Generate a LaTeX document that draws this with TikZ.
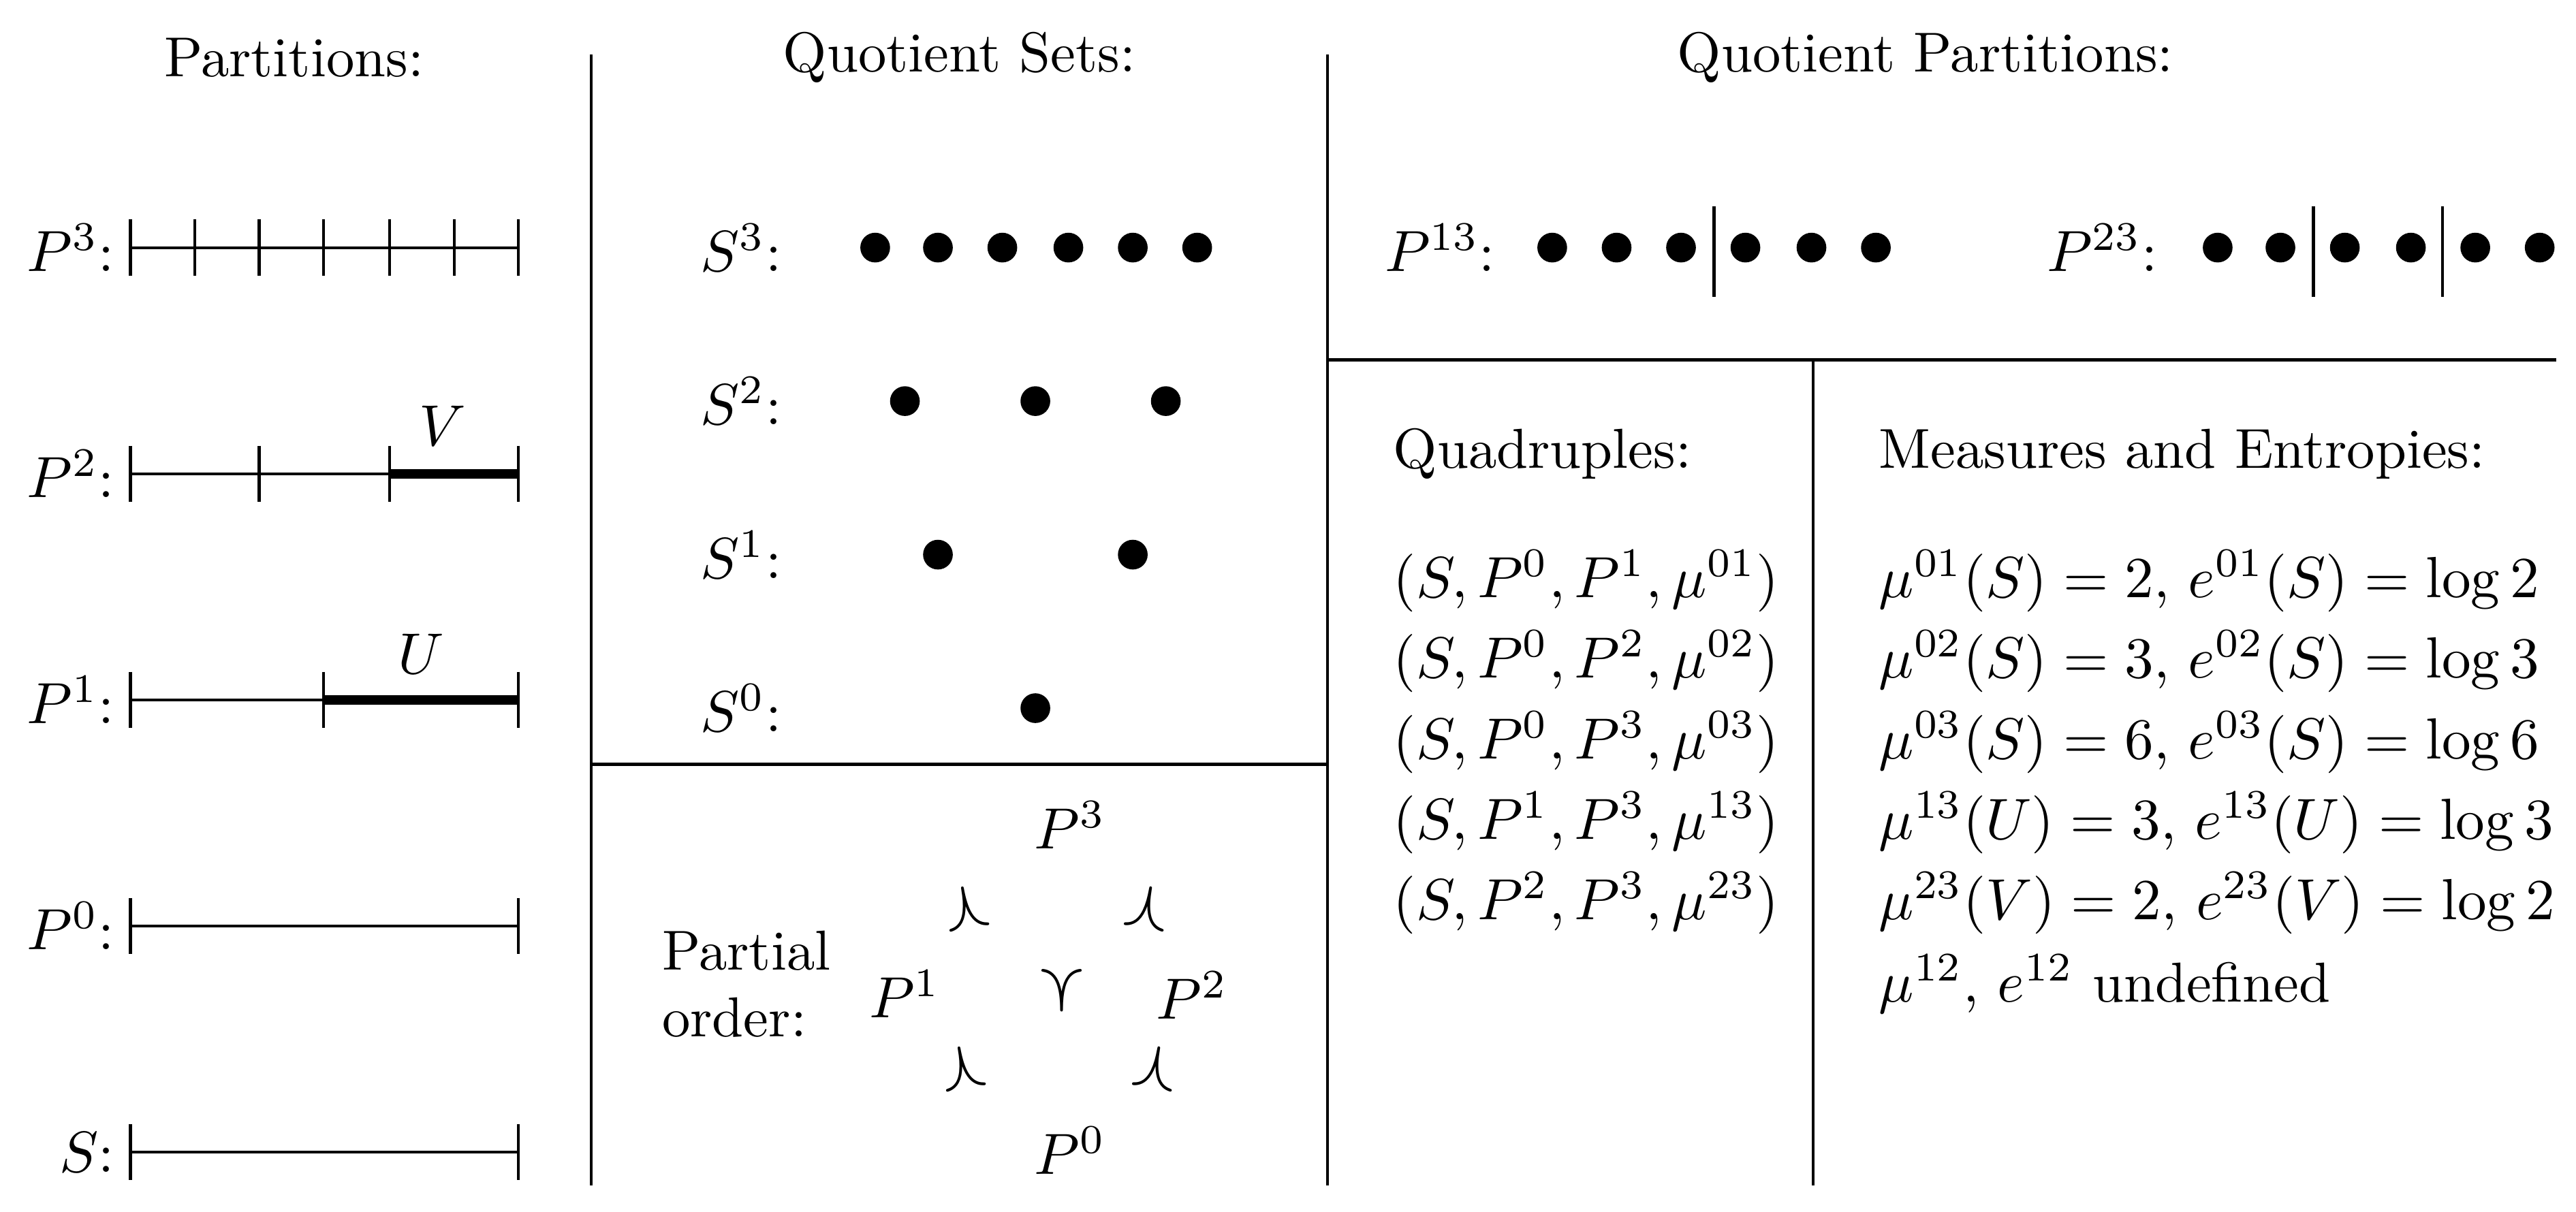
\documentclass[tikz,border=0pt]{standalone}
\usepackage{amsmath}
\usepackage{amssymb}
\usepackage{tikz}
\usetikzlibrary{calc}

\tikzset{
  txt/.style={inner sep=0pt,font=\fontsize{9.7}{11.5}\selectfont},
  dot/.style={circle,fill=black,inner sep=0pt,minimum size=0.18cm},
  bar/.style={line width=1.7pt},
  rel/.style={txt,font=\fontsize{12}{14}\selectfont}
}

\begin{document}
\begin{tikzpicture}[x=0.01cm,y=-0.01cm,line width=0.5pt]
  \useasboundingbox (0,0) rectangle (1560,734);

  % Frame lines
  \draw (358,33) -- (358,718);
  \draw (804,33) -- (804,718);
  \draw (1098,218) -- (1098,718);
  \draw (358,463) -- (804,463);
  \draw (804,218) -- (1548,218);

  % Partitions
  \node[txt] (ptitle) at (178,35) {Partitions:};
  \foreach \lab/\y in {P^3/150,P^2/287,P^1/424,P^0/561,S/698}{
    \node[txt,anchor=east] at (70,\y) {$\lab$:};
    \draw (79,\y) -- (314,\y);
  }
  \foreach \x in {79,118,157,196,236,275,314} \draw (\x,133) -- (\x,167);
  \foreach \x in {79,157,236,314} \draw (\x,270) -- (\x,304);
  \foreach \x in {79,196,314} \draw (\x,407) -- (\x,441);
  \foreach \y in {561,698} {\draw (79,\y-17) -- (79,\y+17); \draw (314,\y-17) -- (314,\y+17);}
  \draw[bar] (236,287) -- (314,287);
  \draw[bar] (196,424) -- (314,424);
  \node[txt] (V) at (268,258) {$V$};
  \node[txt] (U) at (255,396) {$U$};

  % Quotient sets
  \node[txt] (qtitle) at (581,35) {Quotient Sets:};
  \node[txt,anchor=east] at (474,150) {$S^3$:};
  \node[txt,anchor=east] at (474,243) {$S^2$:};
  \node[txt,anchor=east] at (474,336) {$S^1$:};
  \node[txt,anchor=east] at (474,429) {$S^0$:};
  \foreach \x in {530,568,607,647,686,725} \node[dot] at (\x,150) {};
  \foreach \x in {548,627,706} \node[dot] at (\x,243) {};
  \foreach \x in {568,686} \node[dot] at (\x,336) {};
  \node[dot] at (627,429) {};

  % Partial order
  \node[txt,align=left] (po) at (452,596) {Partial\\order:};
  \node[txt] (p3) at (648,500) {$P^3$};
  \node[txt] (p1) at (548,602) {$P^1$};
  \node[txt] (p2) at (722,603) {$P^2$};
  \node[txt] (p0) at (648,697) {$P^0$};
  \node[rel,rotate=-80] at (585,550) {$\prec$};
  \node[rel,rotate=-100] at (695,550) {$\prec$};
  \node[rel,rotate=90] at (643,600) {$\prec$};
  \node[rel,rotate=-80] at (583,647) {$\prec$};
  \node[rel,rotate=-100] at (700,647) {$\prec$};

  % Quotient partitions
  \node[txt] (qptitle) at (1166,35) {Quotient Partitions:};
  \node[txt] (p13) at (872,150) {$P^{13}$:};
  \foreach \x in {940,979,1018,1057,1097,1136} \node[dot] at (\x,150) {};
  \draw (1038,125) -- (1038,180);
  \node[txt] (p23) at (1273,150) {$P^{23}$:};
  \foreach \x in {1343,1381,1420,1460,1499,1538} \node[dot] at (\x,150) {};
  \draw (1401,125) -- (1401,180);
  \draw (1479,125) -- (1479,180);

  % Quadruples
  \node[txt,anchor=west] (quad) at (843,275) {Quadruples:};
  \foreach \a/\b/\m [count=\i] in {0/1/01,0/2/02,0/3/03,1/3/13,2/3/23}
    \node[txt,anchor=west] at (843,303.2+48.8*\i) {$(S,P^{\a},P^{\b},\mu^{\m})$};

  % Measures and entropies
  \node[txt,anchor=west] (meas) at (1137,275) {Measures and Entropies:};
  \foreach \m/\s/\v [count=\i] in {01/S/2,02/S/3,03/S/6,13/U/3,23/V/2}
    \node[txt,anchor=west] at (1137,303.2+48.8*\i) {$\mu^{\m}(\s)=\v$, $e^{\m}(\s)=\log\v$};
  \node[txt,anchor=west] at (1137,596) {$\mu^{12}$, $e^{12}$ undefined};
\end{tikzpicture}
\end{document}
